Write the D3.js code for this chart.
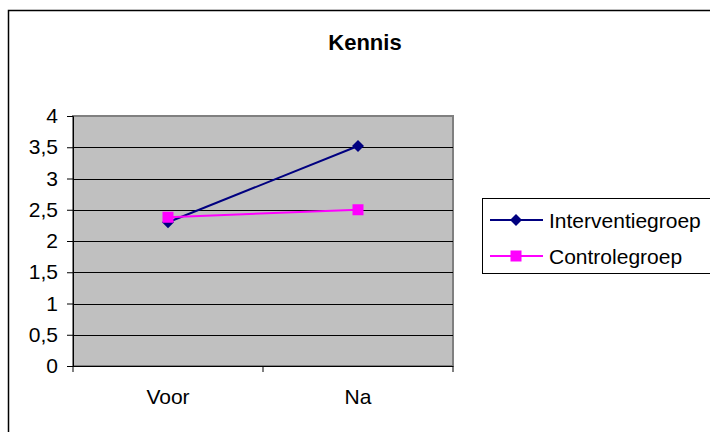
<!DOCTYPE html>
<html><head><meta charset="utf-8">
<script src="https://cdn.jsdelivr.net/npm/d3@7"></script>
<style>body{margin:0;background:#fff}svg{display:block;font-family:"Liberation Sans",Arial,sans-serif}</style>
</head><body><svg id="c" width="710" height="432"></svg>
<script>
const categories = ["Voor", "Na"];
const interventie = [2.3, 3.52];
const controle = [2.38, 2.5];
const yTicks = [0, 0.5, 1, 1.5, 2, 2.5, 3, 3.5, 4];
const seriesNames = ["Interventiegroep", "Controlegroep"];

const svg = d3.select("#c");
const m = {l: 73, t: 116, r: 453, b: 366};
svg.append("rect").attr("x", 8.5).attr("y", 10.5).attr("width", 720).attr("height", 440)
  .attr("fill", "#fff").attr("stroke", "#000").attr("stroke-width", 1.5);

const x = d3.scaleBand().domain(categories).range([m.l, m.r]);
const y = d3.scaleLinear().domain([0, 4]).range([m.b, m.t]);

svg.append("rect").attr("x", m.l).attr("y", m.t).attr("width", m.r - m.l).attr("height", m.b - m.t)
  .attr("fill", "#C0C0C0").attr("stroke", "#808080").attr("stroke-width", 2);

svg.append("g").selectAll("line").data(yTicks.filter(d => d > 0 && d < 4)).join("line")
  .attr("x1", m.l).attr("x2", m.r).attr("y1", d => Math.round(y(d)) + 0.5).attr("y2", d => Math.round(y(d)) + 0.5)
  .attr("stroke", "#000").attr("stroke-width", 1);

const yAxis = svg.append("g").attr("transform", `translate(${m.l},0)`)
  .call(d3.axisLeft(y).tickValues(yTicks).tickSize(6).tickPadding(9)
    .tickFormat(d => String(d).replace(".", ",")));
yAxis.attr("font-size", 21).attr("font-family", null);
yAxis.selectAll("text").attr("fill", "#000");
yAxis.selectAll("line,path").attr("stroke", "#000");

const xAxis = svg.append("g").attr("transform", `translate(0,${m.b})`)
  .call(d3.axisBottom(x).tickSize(0).tickPadding(23));
xAxis.attr("font-size", 21).attr("font-family", null);
xAxis.select("path").remove();
xAxis.selectAll("text").attr("fill", "#000");
svg.append("line").attr("x1", m.l - 6).attr("x2", m.r).attr("y1", m.b + 0.5).attr("y2", m.b + 0.5).attr("stroke", "#000");
const xt = [m.l, x("Na"), m.r];
svg.append("g").selectAll("line").data(xt).join("line")
  .attr("x1", d => d).attr("x2", d => d).attr("y1", m.b).attr("y2", m.b + 6).attr("stroke", "#000");

const cx = d => x(d) + x.bandwidth() / 2;
const line = d3.line().x((d, i) => cx(categories[i])).y(d => y(d));

svg.append("path").datum(interventie).attr("d", line).attr("fill", "none").attr("stroke", "#000080").attr("stroke-width", 2);
svg.append("path").datum(controle).attr("d", line).attr("fill", "none").attr("stroke", "#FF00FF").attr("stroke-width", 2);

svg.append("g").selectAll("path").data(interventie).join("path")
  .attr("d", "M0,-6L6,0L0,6L-6,0Z")
  .attr("transform", (d, i) => `translate(${cx(categories[i])},${y(d)})`).attr("fill", "#000080");
svg.append("g").selectAll("rect").data(controle).join("rect")
  .attr("x", (d, i) => cx(categories[i]) - 5.5).attr("y", d => y(d) - 5.5).attr("width", 11).attr("height", 11)
  .attr("fill", "#FF00FF");

svg.append("text").attr("x", 365).attr("y", 50).attr("text-anchor", "middle")
  .attr("font-size", 22).attr("font-weight", "bold").text("Kennis");

// legend
svg.append("rect").attr("x", 482.5).attr("y", 198.5).attr("width", 240).attr("height", 75)
  .attr("fill", "#fff").attr("stroke", "#000").attr("stroke-width", 1);
const colors = ["#000080", "#FF00FF"];
seriesNames.forEach((n, i) => {
  const yy = 220 + i * 36;
  const g = svg.append("g");
  g.append("line").attr("x1", 490).attr("x2", 543).attr("y1", yy).attr("y2", yy).attr("stroke", colors[i]).attr("stroke-width", 2);
  if (i === 0) g.append("path").attr("d", "M0,-6L6,0L0,6L-6,0Z").attr("transform", `translate(516,${yy})`).attr("fill", colors[i]);
  else g.append("rect").attr("x", 510.5).attr("y", yy - 5.5).attr("width", 11).attr("height", 11).attr("fill", colors[i]);
  g.append("text").attr("x", 549).attr("y", yy + 7.5).attr("font-size", 21).text(n);
});
</script></body></html>
